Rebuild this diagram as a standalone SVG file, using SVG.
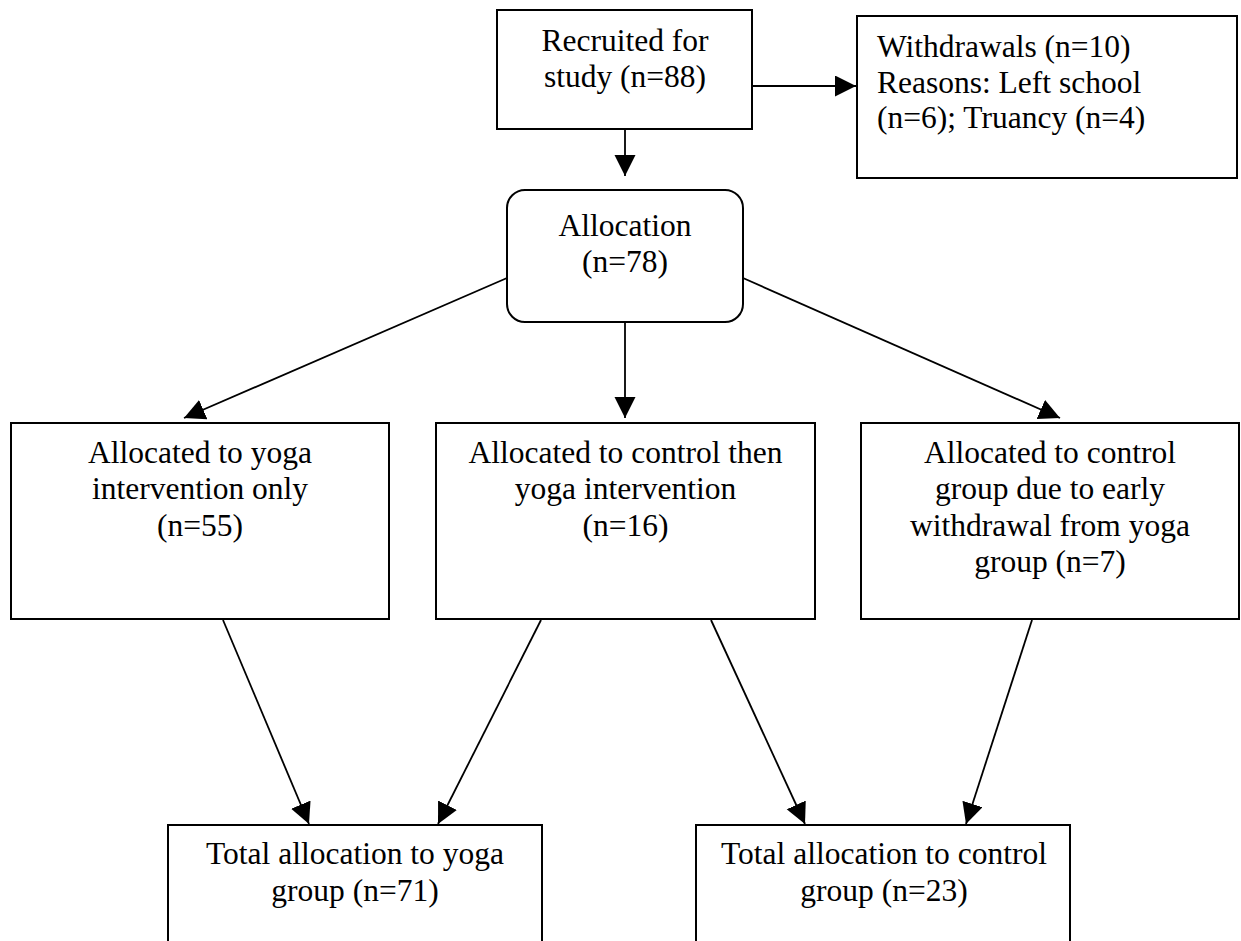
<svg xmlns="http://www.w3.org/2000/svg" width="1241" height="941" viewBox="0 0 1241 941">
<style>
.box{fill:#fff;stroke:#000;stroke-width:2}
.t{font-family:"Liberation Serif","Times New Roman",serif;font-size:31.5px;fill:#000}
.c{text-anchor:middle}
.ln{stroke:#000;stroke-width:1.8;fill:none;marker-end:url(#ah)}
</style>
<defs>
<marker id="ah" markerUnits="userSpaceOnUse" markerWidth="22" markerHeight="22" refX="21" refY="10.5" orient="auto" viewBox="0 0 22 22">
<path d="M0,0 L21,10.5 L0,21 Z" fill="#000"/>
</marker>
</defs>
<rect width="1241" height="941" fill="#fff"/>
<g id="connectors">
<line class="ln" x1="625" y1="129" x2="625" y2="176"/>
<line class="ln" x1="752" y1="86" x2="856" y2="86"/>
<line class="ln" x1="507" y1="278" x2="184" y2="418"/>
<line class="ln" x1="625" y1="322" x2="625" y2="418"/>
<line class="ln" x1="743" y1="278" x2="1060" y2="418"/>
<line class="ln" x1="223" y1="620" x2="309" y2="824"/>
<line class="ln" x1="541" y1="620" x2="438" y2="824"/>
<line class="ln" x1="711" y1="620" x2="805" y2="824"/>
<line class="ln" x1="1032" y1="620" x2="966" y2="824"/>
</g>
<g id="recruited">
<rect class="box" x="497" y="10" width="255" height="119"/>
<text class="t c" x="625" y="51">Recruited for</text>
<text class="t c" x="625" y="87">study (n=88)</text>
</g>
<g id="withdrawals">
<rect class="box" x="857" y="16" width="380" height="162"/>
<text class="t" x="877" y="57">Withdrawals (n=10)</text>
<text class="t" x="877" y="93">Reasons: Left school</text>
<text class="t" x="877" y="128">(n=6); Truancy (n=4)</text>
</g>
<g id="allocation">
<rect class="box" x="507" y="190" width="236" height="132" rx="18" ry="18"/>
<text class="t c" x="625" y="236">Allocation</text>
<text class="t c" x="625" y="272">(n=78)</text>
</g>
<g id="yoga-only">
<rect class="box" x="11" y="423" width="378" height="196"/>
<text class="t c" x="200" y="463">Allocated to yoga</text>
<text class="t c" x="200" y="499">intervention only</text>
<text class="t c" x="200" y="536">(n=55)</text>
</g>
<g id="control-then-yoga">
<rect class="box" x="436" y="423" width="379" height="196"/>
<text class="t c" x="625.5" y="463">Allocated to control then</text>
<text class="t c" x="625.5" y="499">yoga intervention</text>
<text class="t c" x="625.5" y="536">(n=16)</text>
</g>
<g id="control-early">
<rect class="box" x="861" y="423" width="378" height="196"/>
<text class="t c" x="1050" y="463">Allocated to control</text>
<text class="t c" x="1050" y="499">group due to early</text>
<text class="t c" x="1050" y="536">withdrawal from yoga</text>
<text class="t c" x="1050" y="572">group (n=7)</text>
</g>
<g id="total-yoga">
<rect class="box" x="168" y="825" width="374" height="140"/>
<text class="t c" x="355" y="864">Total allocation to yoga</text>
<text class="t c" x="355" y="901">group (n=71)</text>
</g>
<g id="total-control">
<rect class="box" x="696" y="825" width="374" height="140"/>
<text class="t c" x="884" y="864">Total allocation to control</text>
<text class="t c" x="884" y="901">group (n=23)</text>
</g>
</svg>
